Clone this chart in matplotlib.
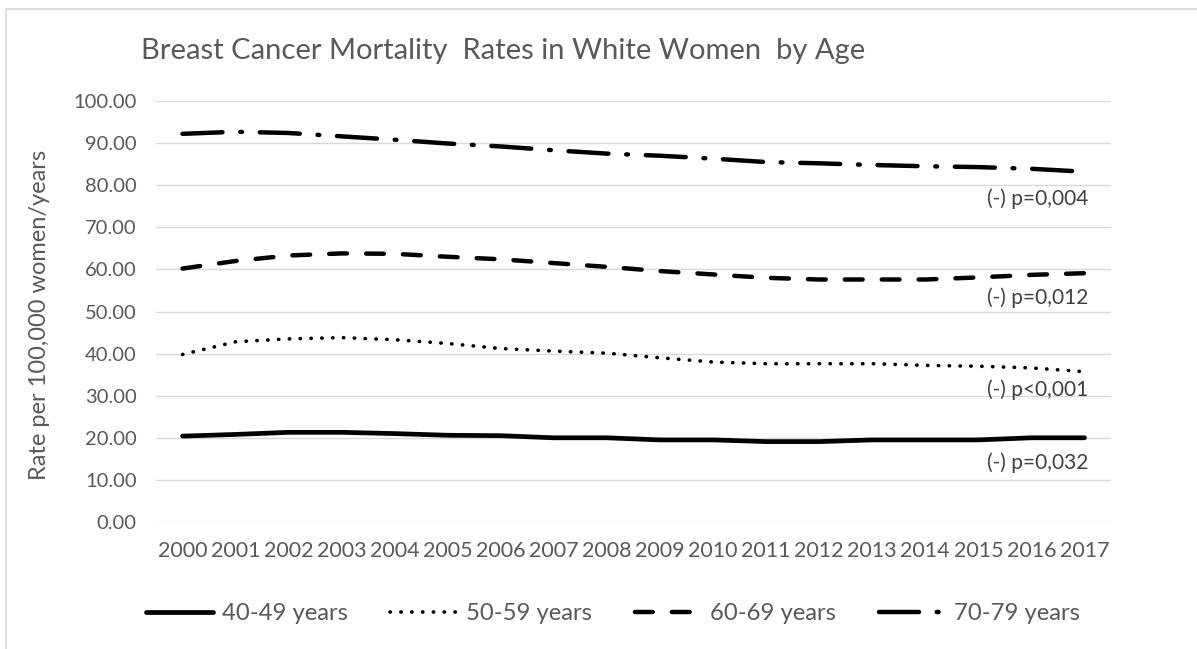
import matplotlib
matplotlib.use("Agg")
import matplotlib.pyplot as plt
from matplotlib.patches import Rectangle

plt.rcParams['font.family'] = ['Lato', 'DejaVu Sans']

years = [str(y) for y in range(2000, 2018)]

age_40_49 = [20.4, 20.8, 21.3, 21.3, 21.0, 20.6, 20.5, 20.0, 20.0, 19.5,
             19.5, 19.1, 19.1, 19.5, 19.5, 19.5, 20.0, 20.0]
age_50_59 = [39.8, 42.8, 43.5, 43.8, 43.3, 42.4, 41.2, 40.6, 40.1, 39.0,
             38.0, 37.6, 37.6, 37.6, 37.2, 37.0, 36.6, 35.7]
age_60_69 = [60.2, 62.0, 63.3, 63.8, 63.7, 63.0, 62.4, 61.5, 60.6, 59.6,
             58.8, 58.0, 57.6, 57.6, 57.6, 58.1, 58.7, 59.1]
age_70_79 = [92.2, 92.7, 92.4, 91.6, 90.8, 89.9, 89.2, 88.3, 87.5, 87.0,
             86.3, 85.5, 85.2, 84.8, 84.5, 84.3, 83.9, 83.2]

labels = ['40-49 years', '50-59 years', '60-69 years', '70-79 years']
p_notes = ['(-) p=0,032', '(-) p<0,001', '(-) p=0,012', '(-) p=0,004']
p_note_y = [14.2, 31.4, 53.2, 76.8]

grey = '#595959'
W, H = 1197, 649
fig = plt.figure(figsize=(W / 100, H / 100), dpi=100)
ax = fig.add_axes([156 / W, (H - 522) / H, (1111 - 156) / W, (522 - 101) / H])

x = list(range(len(years)))
ax.plot(x, age_40_49, color='black', lw=3.4, solid_capstyle='round', label=labels[0])
ax.plot(x, age_50_59, color='black', lw=2.6, linestyle=(0, (0.1, 2.9)),
        dash_capstyle='round', label=labels[1])
ax.plot(x, age_60_69, color='black', lw=3.2, linestyle=(0, (4.0, 4.3)),
        dash_capstyle='round', label=labels[2])
ax.plot(x, age_70_79, color='black', lw=3.2, linestyle=(0, (9.0, 4.0, 0.4, 4.0)),
        dash_capstyle='round', label=labels[3])

for txt, yy in zip(p_notes, p_note_y):
    ax.text(17.07, yy, txt, ha='right', va='center', fontsize=15, color='#404040')

ax.set_xlim(-0.5, 17.5)
ax.set_ylim(0, 100)
ax.set_yticks(range(0, 101, 10))
ax.set_yticklabels([f'{v:.2f}' for v in range(0, 101, 10)])
ax.set_xticks(x)
ax.set_xticklabels(years)
ax.tick_params(length=0, labelcolor=grey)
ax.tick_params(axis='y', pad=14, labelsize=14.5)
ax.tick_params(axis='x', pad=14, labelsize=15.5)
ax.grid(axis='y', color='#d9d9d9', lw=1)
ax.set_axisbelow(True)
for s in ax.spines.values():
    s.set_visible(False)

fig.text(40 / W, 1 - 315 / H, 'Rate per 100,000 women/years', rotation=90,
         ha='center', va='center', fontsize=17, color=grey)
fig.text(503 / W, 1 - 51 / H, 'Breast Cancer Mortality  Rates in White Women  by Age',
         ha='center', va='center', fontsize=21, color=grey)

fig.legend(loc='center', bbox_to_anchor=(613 / W, 1 - 614 / H), ncol=4, frameon=False,
           fontsize=17.2, labelcolor=grey, handlelength=2.8, handletextpad=0.35,
           columnspacing=1.8)

fig.patches.append(Rectangle((6 / W, -0.02), 1.05, 1.02 - 9 / H,
                             transform=fig.transFigure, fill=False,
                             edgecolor='#d9d9d9', lw=1.2))

fig.savefig('out.png', dpi=100)
